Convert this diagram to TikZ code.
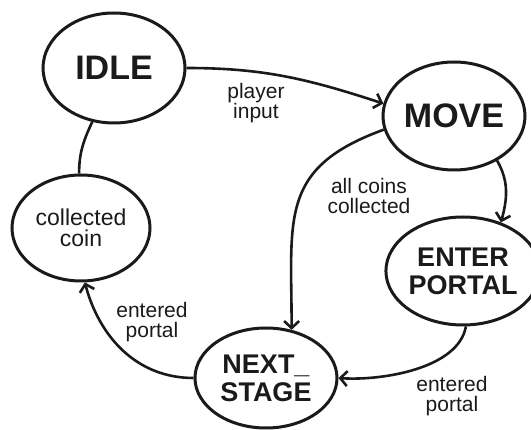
\documentclass[tikz,border=0pt]{standalone}
\usepackage{fontspec}
\setmainfont{Liberation Sans}
\usetikzlibrary{arrows.meta,shapes.geometric}
\definecolor{inkgray}{RGB}{26,26,26}

\begin{document}
\begin{tikzpicture}[
    x=1pt, y=-1pt,
    state/.style  = {ellipse, draw=inkgray, line width=3pt, inner sep=0pt,
                     align=center, text=inkgray},
    bigstate/.style = {state, font=\fontsize{34}{36}\selectfont\bfseries},
    twostate/.style = {state, font=\fontsize{27}{28}\selectfont\bfseries},
    smallstate/.style = {state, font=\fontsize{23}{21}\selectfont},
    lbl/.style    = {align=center, text=inkgray, inner sep=0pt,
                     font=\fontsize{21}{20}\selectfont},
    arr/.style    = {-{Straight Barb[length=7pt,width=15pt,line width=2.6pt]},
                     line width=2.6pt, draw=inkgray},
    edge/.style   = {line width=2.6pt, draw=inkgray}
  ]
    \useasboundingbox (0,0) rectangle (531,430);

    \node[bigstate,   minimum width=142pt, minimum height=110pt] (idle)  at (114,68)  {IDLE};
    \node[bigstate,   minimum width=142pt, minimum height=108pt] (move)  at (454,116) {MOVE};
    \node[twostate,   minimum width=130pt, minimum height=108pt] (enter) at (463,271) {ENTER\\PORTAL};
    \node[smallstate, minimum width=138pt, minimum height=106pt] (coin)  at (81,228)  {collected\\coin};
    \node[twostate,   minimum width=142pt, minimum height=100pt] (next)  at (266,378) {NEXT\_\\STAGE};

    \node[lbl] (lplayer) at (256,103) {player\\input};
    \node[lbl] (lcoins)  at (369,196) {all coins\\collected};
    \node[lbl] (lportr)  at (452,396) {entered\\portal};
    \node[lbl] (lportl)  at (152,322) {entered\\portal};

    \draw[arr]  (idle.east) to[out=0, in=162] (move.170);
    \draw[arr]  (move.-46) to[out=-60, in=75] (enter.52);
    \draw[arr]  (move.191) to[out=200, in=90, looseness=1.3] (next.62);
    \draw[arr]  (enter.-87) to[out=-100, in=-4, looseness=0.8] (next.east);
    \draw[arr]  (next.west) to[out=180, in=-75] (coin.-86);
    \draw[edge] (coin.92) to[out=90, in=-115] (idle.248);
  \end{tikzpicture}
\end{document}
